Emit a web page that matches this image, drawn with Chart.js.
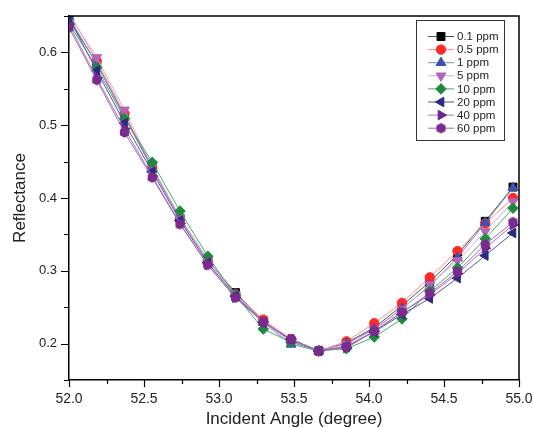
<!DOCTYPE html>
<html>
<head>
<meta charset="utf-8">
<script src="https://cdn.jsdelivr.net/npm/chart.js@4.4.0/dist/chart.umd.min.js"></script>
<style>
  html, body { margin: 0; padding: 0; background: #fff; }
  #wrap { width: 533px; height: 428px; }
</style>
</head>
<body>
<div id="wrap"><canvas id="spr" width="533" height="428"></canvas></div>
<script>
// incident angle (degree) of each measured point
const angles = [52.0, 52.185, 52.37, 52.555, 52.74, 52.925, 53.11, 53.295, 53.48,
                53.665, 53.85, 54.035, 54.22, 54.405, 54.59, 54.775, 54.96];

// reflectance for each concentration
const ppm01 = [0.645, 0.585, 0.512, 0.440, 0.372, 0.314, 0.270, 0.231, 0.204, 0.190, 0.201, 0.222, 0.252, 0.285, 0.322, 0.368, 0.415];
const ppm05 = [0.655, 0.588, 0.516, 0.441, 0.372, 0.314, 0.268, 0.233, 0.206, 0.190, 0.203, 0.228, 0.256, 0.291, 0.327, 0.365, 0.400];
const ppm1  = [0.648, 0.584, 0.513, 0.442, 0.373, 0.315, 0.268, 0.229, 0.199, 0.190, 0.200, 0.220, 0.248, 0.279, 0.318, 0.366, 0.414];
const ppm5  = [0.652, 0.593, 0.521, 0.443, 0.373, 0.314, 0.267, 0.228, 0.203, 0.190, 0.199, 0.219, 0.247, 0.281, 0.314, 0.354, 0.395];
const ppm10 = [0.640, 0.579, 0.509, 0.449, 0.382, 0.320, 0.266, 0.220, 0.202, 0.190, 0.193, 0.209, 0.234, 0.272, 0.304, 0.344, 0.386];
const ppm20 = [0.647, 0.575, 0.503, 0.436, 0.369, 0.311, 0.265, 0.229, 0.206, 0.190, 0.196, 0.216, 0.240, 0.262, 0.290, 0.321, 0.352];
const ppm40 = [0.638, 0.565, 0.495, 0.430, 0.365, 0.308, 0.263, 0.230, 0.206, 0.190, 0.194, 0.217, 0.243, 0.267, 0.296, 0.331, 0.363];
const ppm60 = [0.634, 0.562, 0.490, 0.428, 0.364, 0.308, 0.263, 0.229, 0.206, 0.190, 0.196, 0.217, 0.243, 0.269, 0.299, 0.336, 0.367];

const seriesNames = ['0.1 ppm', '0.5 ppm', '1 ppm', '5 ppm', '10 ppm', '20 ppm', '40 ppm', '60 ppm'];
const seriesValues = [ppm01, ppm05, ppm1, ppm5, ppm10, ppm20, ppm40, ppm60];

const xTickLabels = [52.0, 52.5, 53.0, 53.5, 54.0, 54.5, 55.0];
const yTickLabels = [0.2, 0.3, 0.4, 0.5, 0.6];

// hexagon marker, Chart.js has no built-in one
function hexMarker(color, r) {
    const c = document.createElement('canvas');
    const s = Math.ceil(r * 2 + 2);
    c.width = s; c.height = s;
    const g = c.getContext('2d');
    g.fillStyle = color;
    g.beginPath();
    for (let k = 0; k < 6; k++) {
        const a = -Math.PI / 2 + k * Math.PI / 3;
        const px = s / 2 + r * Math.cos(a), py = s / 2 + r * Math.sin(a);
        if (k === 0) g.moveTo(px, py); else g.lineTo(px, py);
    }
    g.closePath();
    g.fill();
    return c;
}

const styles = [
    { line: '#555555', fill: '#000000', shape: 'rect',     rot: 0,   r: 5.6 },
    { line: '#ff8a8a', fill: '#ff2a2a', shape: 'circle',   rot: 0,   r: 4.7 },
    { line: '#7888cc', fill: '#3a52aa', shape: 'triangle', rot: 0,   r: 5.6 },
    { line: '#dcaadc', fill: '#b565b8', shape: 'triangle', rot: 180, r: 5.6 },
    { line: '#4fa865', fill: '#1f8a3e', shape: 'rectRot',  rot: 0,   r: 5.3 },
    { line: '#55559f', fill: '#2c2a80', shape: 'triangle', rot: -90, r: 5.6 },
    { line: '#a478c4', fill: '#6e2596', shape: 'triangle', rot: 90,  r: 5.6 },
    { line: '#a068b4', fill: '#7b2a8e', shape: 'hex',      rot: 0,   r: 5.3 }
];
styles.forEach(s => { if (s.shape === 'hex') s.shape = hexMarker(s.fill, s.r); });

const datasets = seriesValues.map((vals, i) => ({
    label: seriesNames[i],
    data: vals.map((v, k) => ({ x: angles[k], y: v })),
    borderColor: styles[i].line,
    borderWidth: 1,
    backgroundColor: styles[i].fill,
    pointBackgroundColor: styles[i].fill,
    pointBorderColor: styles[i].fill,
    pointBorderWidth: 1,
    pointStyle: styles[i].shape,
    pointRotation: styles[i].rot,
    pointRadius: styles[i].r,
    tension: 0,
    order: seriesValues.length - i
}));

// frame, minor/major tick marks and the boxed legend
const framePlugin = {
    id: 'frame',
    afterDraw(chart) {
        const ctx = chart.ctx;
        const a = chart.chartArea;
        const xs = chart.scales.x, ys = chart.scales.y;
        ctx.save();
        ctx.strokeStyle = '#000';
        ctx.lineWidth = 1.5;
        ctx.beginPath();
        ctx.moveTo(a.left, a.top); ctx.lineTo(a.right, a.top); ctx.lineTo(a.right, a.bottom);
        ctx.stroke();

        ctx.lineWidth = 1.2;
        ctx.beginPath();
        for (let v = 52.0; v <= 55.001; v += 0.25) {
            const px = Math.round(xs.getPixelForValue(v)) + 0.5;
            const major = Math.abs(v * 2 - Math.round(v * 2)) < 1e-6;
            ctx.moveTo(px, a.bottom); ctx.lineTo(px, a.bottom + (major ? 7 : 4));
        }
        for (let v = 0.15; v <= 0.651; v += 0.05) {
            const py = Math.round(ys.getPixelForValue(v)) + 0.5;
            const major = Math.abs(v * 10 - Math.round(v * 10)) < 1e-6;
            ctx.moveTo(a.left, py); ctx.lineTo(a.left - (major ? 8 : 5), py);
        }
        ctx.stroke();

        // legend
        const bx = 416, by = 20, bw = 88, bh = 120;
        ctx.fillStyle = '#fff';
        ctx.fillRect(bx, by, bw, bh);
        ctx.lineWidth = 1;
        ctx.strokeStyle = '#333';
        ctx.strokeRect(bx + 0.5, by + 0.5, bw, bh);
        ctx.font = '11.5px "Liberation Sans", Arial, sans-serif';
        ctx.textBaseline = 'middle';
        ctx.textAlign = 'left';
        seriesNames.forEach((name, i) => {
            const y = by + 16.5 + i * 13.1;
            const st = styles[i];
            ctx.strokeStyle = st.line;
            ctx.lineWidth = 1;
            ctx.beginPath();
            ctx.moveTo(428, y); ctx.lineTo(454, y);
            ctx.stroke();
            ctx.fillStyle = st.fill;
            ctx.strokeStyle = st.fill;
            Chart.helpers.drawPoint(ctx, { pointStyle: st.shape, rotation: st.rot, radius: st.r, borderWidth: 1 }, 441, y);
            ctx.fillStyle = '#222';
            ctx.fillText(name, 457, y + 0.5);
        });
        ctx.restore();
    }
};

new Chart(document.getElementById('spr'), {
    type: 'line',
    data: { datasets: datasets },
    options: {
        responsive: false,
        animation: false,
        layout: { padding: { left: 0, right: 14, top: 16, bottom: 0 } },
        plugins: { legend: { display: false }, tooltip: { enabled: false } },
        scales: {
            x: {
                type: 'linear',
                min: 52.0,
                max: 55.0,
                afterFit: s => { s.height = 48; s.paddingLeft = 0; s.paddingRight = 0; },
                afterBuildTicks: s => { s.ticks = xTickLabels.map(v => ({ value: v })); },
                grid: { display: false, drawTicks: false },
                border: { display: true, color: '#000', width: 1.5 },
                ticks: {
                    color: '#222',
                    padding: 11,
                    maxRotation: 0,
                    autoSkip: false,
                    font: { family: '"Liberation Sans", Arial, sans-serif', size: 14 },
                    callback: v => Number(v).toFixed(1)
                },
                title: {
                    display: true,
                    text: 'Incident Angle (degree)',
                    color: '#222',
                    padding: { top: 0, bottom: 0 },
                    font: { family: '"Liberation Sans", Arial, sans-serif', size: 17, lineHeight: 1 }
                }
            },
            y: {
                min: 0.15,
                max: 0.65,
                afterFit: s => { s.width = 69; s.paddingTop = 0; s.paddingBottom = 0; },
                afterBuildTicks: s => { s.ticks = yTickLabels.map(v => ({ value: v })); },
                grid: { display: false, drawTicks: false },
                border: { display: true, color: '#000', width: 1.5 },
                ticks: {
                    color: '#222',
                    padding: 12,
                    autoSkip: false,
                    font: { family: '"Liberation Sans", Arial, sans-serif', size: 13 },
                    callback: v => Number(v).toFixed(1)
                },
                title: {
                    display: true,
                    text: 'Reflectance',
                    color: '#222',
                    padding: { top: 12, bottom: 0 },
                    font: { family: '"Liberation Sans", Arial, sans-serif', size: 17, lineHeight: 1 }
                }
            }
        }
    },
    plugins: [framePlugin]
});
</script>
</body>
</html>
